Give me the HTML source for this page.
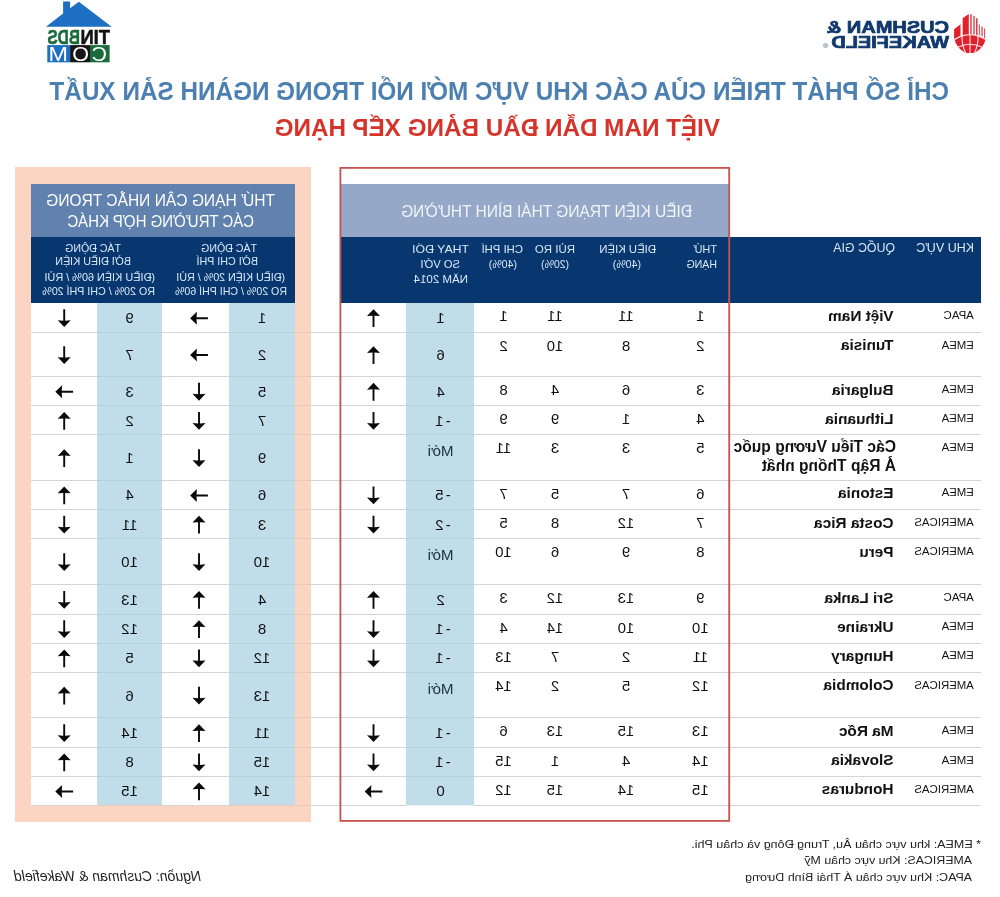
<!DOCTYPE html>
<html lang="vi"><head><meta charset="utf-8">
<title>Chỉ số phát triển của các khu vực mới nổi trong ngành sản xuất</title>
<style>
html,body{margin:0;padding:0;background:#fff;}
body{width:1000px;height:897px;overflow:hidden;font-family:"Liberation Sans", sans-serif;}
#flip{position:absolute;left:0;top:0;width:1000px;height:897px;transform:scaleX(-1);transform-origin:50% 50%;overflow:hidden;will-change:transform;}
.b{position:absolute;}
.t{position:absolute;white-space:nowrap;line-height:1;transform-origin:0 0;}
.c{position:absolute;white-space:nowrap;line-height:1;width:80px;text-align:center;}
.g{position:absolute;transform:scaleX(-1);}
</style></head><body><div id="flip">
<div class="b" style="left:689px;top:167px;width:296px;height:655px;background:#fbd4c2"></div>
<div class="b" style="left:705px;top:184px;width:264px;height:53px;background:#6182ae"></div>
<div class="b" style="left:705px;top:237px;width:264px;height:65.75px;background:#08376f"></div>
<div class="b" style="left:705px;top:302.75px;width:264px;height:502.5px;background:#fff"></div>
<div class="b" style="left:705px;top:302.75px;width:65.5px;height:502.5px;background:#c0dde9"></div>
<div class="b" style="left:837.5px;top:302.75px;width:65.5px;height:502.5px;background:#c0dde9"></div>
<div class="b" style="left:271.4px;top:184px;width:387.6px;height:53px;background:#96a8c8"></div>
<div class="b" style="left:19px;top:237px;width:640px;height:65.75px;background:#08376f"></div>
<div class="b" style="left:525.6px;top:302.75px;width:68.4px;height:502.5px;background:#c0dde9"></div>
<div class="b" style="left:903px;top:331.75px;width:66px;height:1px;background:#d1d4d8"></div>
<div class="b" style="left:770.5px;top:331.75px;width:67px;height:1px;background:#d1d4d8"></div>
<div class="b" style="left:594px;top:331.75px;width:95px;height:1px;background:#d1d4d8"></div>
<div class="b" style="left:19px;top:331.75px;width:506.6px;height:1px;background:#d1d4d8"></div>
<div class="b" style="left:837.5px;top:331.75px;width:65.5px;height:1px;background:rgba(110,130,150,0.13)"></div>
<div class="b" style="left:689px;top:331.75px;width:81.5px;height:1px;background:rgba(110,130,150,0.13)"></div>
<div class="b" style="left:525.6px;top:331.75px;width:68.4px;height:1px;background:rgba(110,130,150,0.13)"></div>
<div class="b" style="left:903px;top:376px;width:66px;height:1px;background:#d1d4d8"></div>
<div class="b" style="left:770.5px;top:376px;width:67px;height:1px;background:#d1d4d8"></div>
<div class="b" style="left:594px;top:376px;width:95px;height:1px;background:#d1d4d8"></div>
<div class="b" style="left:19px;top:376px;width:506.6px;height:1px;background:#d1d4d8"></div>
<div class="b" style="left:837.5px;top:376px;width:65.5px;height:1px;background:rgba(110,130,150,0.13)"></div>
<div class="b" style="left:689px;top:376px;width:81.5px;height:1px;background:rgba(110,130,150,0.13)"></div>
<div class="b" style="left:525.6px;top:376px;width:68.4px;height:1px;background:rgba(110,130,150,0.13)"></div>
<div class="b" style="left:903px;top:405.1px;width:66px;height:1px;background:#d1d4d8"></div>
<div class="b" style="left:770.5px;top:405.1px;width:67px;height:1px;background:#d1d4d8"></div>
<div class="b" style="left:594px;top:405.1px;width:95px;height:1px;background:#d1d4d8"></div>
<div class="b" style="left:19px;top:405.1px;width:506.6px;height:1px;background:#d1d4d8"></div>
<div class="b" style="left:837.5px;top:405.1px;width:65.5px;height:1px;background:rgba(110,130,150,0.13)"></div>
<div class="b" style="left:689px;top:405.1px;width:81.5px;height:1px;background:rgba(110,130,150,0.13)"></div>
<div class="b" style="left:525.6px;top:405.1px;width:68.4px;height:1px;background:rgba(110,130,150,0.13)"></div>
<div class="b" style="left:903px;top:434.25px;width:66px;height:1px;background:#d1d4d8"></div>
<div class="b" style="left:770.5px;top:434.25px;width:67px;height:1px;background:#d1d4d8"></div>
<div class="b" style="left:594px;top:434.25px;width:95px;height:1px;background:#d1d4d8"></div>
<div class="b" style="left:19px;top:434.25px;width:506.6px;height:1px;background:#d1d4d8"></div>
<div class="b" style="left:837.5px;top:434.25px;width:65.5px;height:1px;background:rgba(110,130,150,0.13)"></div>
<div class="b" style="left:689px;top:434.25px;width:81.5px;height:1px;background:rgba(110,130,150,0.13)"></div>
<div class="b" style="left:525.6px;top:434.25px;width:68.4px;height:1px;background:rgba(110,130,150,0.13)"></div>
<div class="b" style="left:903px;top:479.5px;width:66px;height:1px;background:#d1d4d8"></div>
<div class="b" style="left:770.5px;top:479.5px;width:67px;height:1px;background:#d1d4d8"></div>
<div class="b" style="left:594px;top:479.5px;width:95px;height:1px;background:#d1d4d8"></div>
<div class="b" style="left:19px;top:479.5px;width:506.6px;height:1px;background:#d1d4d8"></div>
<div class="b" style="left:837.5px;top:479.5px;width:65.5px;height:1px;background:rgba(110,130,150,0.13)"></div>
<div class="b" style="left:689px;top:479.5px;width:81.5px;height:1px;background:rgba(110,130,150,0.13)"></div>
<div class="b" style="left:525.6px;top:479.5px;width:68.4px;height:1px;background:rgba(110,130,150,0.13)"></div>
<div class="b" style="left:903px;top:509px;width:66px;height:1px;background:#d1d4d8"></div>
<div class="b" style="left:770.5px;top:509px;width:67px;height:1px;background:#d1d4d8"></div>
<div class="b" style="left:594px;top:509px;width:95px;height:1px;background:#d1d4d8"></div>
<div class="b" style="left:19px;top:509px;width:506.6px;height:1px;background:#d1d4d8"></div>
<div class="b" style="left:837.5px;top:509px;width:65.5px;height:1px;background:rgba(110,130,150,0.13)"></div>
<div class="b" style="left:689px;top:509px;width:81.5px;height:1px;background:rgba(110,130,150,0.13)"></div>
<div class="b" style="left:525.6px;top:509px;width:68.4px;height:1px;background:rgba(110,130,150,0.13)"></div>
<div class="b" style="left:903px;top:538px;width:66px;height:1px;background:#d1d4d8"></div>
<div class="b" style="left:770.5px;top:538px;width:67px;height:1px;background:#d1d4d8"></div>
<div class="b" style="left:594px;top:538px;width:95px;height:1px;background:#d1d4d8"></div>
<div class="b" style="left:19px;top:538px;width:506.6px;height:1px;background:#d1d4d8"></div>
<div class="b" style="left:837.5px;top:538px;width:65.5px;height:1px;background:rgba(110,130,150,0.13)"></div>
<div class="b" style="left:689px;top:538px;width:81.5px;height:1px;background:rgba(110,130,150,0.13)"></div>
<div class="b" style="left:525.6px;top:538px;width:68.4px;height:1px;background:rgba(110,130,150,0.13)"></div>
<div class="b" style="left:903px;top:583.9px;width:66px;height:1px;background:#d1d4d8"></div>
<div class="b" style="left:770.5px;top:583.9px;width:67px;height:1px;background:#d1d4d8"></div>
<div class="b" style="left:594px;top:583.9px;width:95px;height:1px;background:#d1d4d8"></div>
<div class="b" style="left:19px;top:583.9px;width:506.6px;height:1px;background:#d1d4d8"></div>
<div class="b" style="left:837.5px;top:583.9px;width:65.5px;height:1px;background:rgba(110,130,150,0.13)"></div>
<div class="b" style="left:689px;top:583.9px;width:81.5px;height:1px;background:rgba(110,130,150,0.13)"></div>
<div class="b" style="left:525.6px;top:583.9px;width:68.4px;height:1px;background:rgba(110,130,150,0.13)"></div>
<div class="b" style="left:903px;top:613.5px;width:66px;height:1px;background:#d1d4d8"></div>
<div class="b" style="left:770.5px;top:613.5px;width:67px;height:1px;background:#d1d4d8"></div>
<div class="b" style="left:594px;top:613.5px;width:95px;height:1px;background:#d1d4d8"></div>
<div class="b" style="left:19px;top:613.5px;width:506.6px;height:1px;background:#d1d4d8"></div>
<div class="b" style="left:837.5px;top:613.5px;width:65.5px;height:1px;background:rgba(110,130,150,0.13)"></div>
<div class="b" style="left:689px;top:613.5px;width:81.5px;height:1px;background:rgba(110,130,150,0.13)"></div>
<div class="b" style="left:525.6px;top:613.5px;width:68.4px;height:1px;background:rgba(110,130,150,0.13)"></div>
<div class="b" style="left:903px;top:642.5px;width:66px;height:1px;background:#d1d4d8"></div>
<div class="b" style="left:770.5px;top:642.5px;width:67px;height:1px;background:#d1d4d8"></div>
<div class="b" style="left:594px;top:642.5px;width:95px;height:1px;background:#d1d4d8"></div>
<div class="b" style="left:19px;top:642.5px;width:506.6px;height:1px;background:#d1d4d8"></div>
<div class="b" style="left:837.5px;top:642.5px;width:65.5px;height:1px;background:rgba(110,130,150,0.13)"></div>
<div class="b" style="left:689px;top:642.5px;width:81.5px;height:1px;background:rgba(110,130,150,0.13)"></div>
<div class="b" style="left:525.6px;top:642.5px;width:68.4px;height:1px;background:rgba(110,130,150,0.13)"></div>
<div class="b" style="left:903px;top:671.75px;width:66px;height:1px;background:#d1d4d8"></div>
<div class="b" style="left:770.5px;top:671.75px;width:67px;height:1px;background:#d1d4d8"></div>
<div class="b" style="left:594px;top:671.75px;width:95px;height:1px;background:#d1d4d8"></div>
<div class="b" style="left:19px;top:671.75px;width:506.6px;height:1px;background:#d1d4d8"></div>
<div class="b" style="left:837.5px;top:671.75px;width:65.5px;height:1px;background:rgba(110,130,150,0.13)"></div>
<div class="b" style="left:689px;top:671.75px;width:81.5px;height:1px;background:rgba(110,130,150,0.13)"></div>
<div class="b" style="left:525.6px;top:671.75px;width:68.4px;height:1px;background:rgba(110,130,150,0.13)"></div>
<div class="b" style="left:903px;top:717.25px;width:66px;height:1px;background:#d1d4d8"></div>
<div class="b" style="left:770.5px;top:717.25px;width:67px;height:1px;background:#d1d4d8"></div>
<div class="b" style="left:594px;top:717.25px;width:95px;height:1px;background:#d1d4d8"></div>
<div class="b" style="left:19px;top:717.25px;width:506.6px;height:1px;background:#d1d4d8"></div>
<div class="b" style="left:837.5px;top:717.25px;width:65.5px;height:1px;background:rgba(110,130,150,0.13)"></div>
<div class="b" style="left:689px;top:717.25px;width:81.5px;height:1px;background:rgba(110,130,150,0.13)"></div>
<div class="b" style="left:525.6px;top:717.25px;width:68.4px;height:1px;background:rgba(110,130,150,0.13)"></div>
<div class="b" style="left:903px;top:746.75px;width:66px;height:1px;background:#d1d4d8"></div>
<div class="b" style="left:770.5px;top:746.75px;width:67px;height:1px;background:#d1d4d8"></div>
<div class="b" style="left:594px;top:746.75px;width:95px;height:1px;background:#d1d4d8"></div>
<div class="b" style="left:19px;top:746.75px;width:506.6px;height:1px;background:#d1d4d8"></div>
<div class="b" style="left:837.5px;top:746.75px;width:65.5px;height:1px;background:rgba(110,130,150,0.13)"></div>
<div class="b" style="left:689px;top:746.75px;width:81.5px;height:1px;background:rgba(110,130,150,0.13)"></div>
<div class="b" style="left:525.6px;top:746.75px;width:68.4px;height:1px;background:rgba(110,130,150,0.13)"></div>
<div class="b" style="left:903px;top:775.75px;width:66px;height:1px;background:#d1d4d8"></div>
<div class="b" style="left:770.5px;top:775.75px;width:67px;height:1px;background:#d1d4d8"></div>
<div class="b" style="left:594px;top:775.75px;width:95px;height:1px;background:#d1d4d8"></div>
<div class="b" style="left:19px;top:775.75px;width:506.6px;height:1px;background:#d1d4d8"></div>
<div class="b" style="left:837.5px;top:775.75px;width:65.5px;height:1px;background:rgba(110,130,150,0.13)"></div>
<div class="b" style="left:689px;top:775.75px;width:81.5px;height:1px;background:rgba(110,130,150,0.13)"></div>
<div class="b" style="left:525.6px;top:775.75px;width:68.4px;height:1px;background:rgba(110,130,150,0.13)"></div>
<div class="b" style="left:903px;top:804.75px;width:66px;height:1px;background:#d1d4d8"></div>
<div class="b" style="left:770.5px;top:804.75px;width:67px;height:1px;background:#d1d4d8"></div>
<div class="b" style="left:594px;top:804.75px;width:95px;height:1px;background:#d1d4d8"></div>
<div class="b" style="left:19px;top:804.75px;width:506.6px;height:1px;background:#d1d4d8"></div>
<div class="b" style="left:837.5px;top:804.75px;width:65.5px;height:1px;background:rgba(110,130,150,0.13)"></div>
<div class="b" style="left:689px;top:804.75px;width:81.5px;height:1px;background:rgba(110,130,150,0.13)"></div>
<div class="b" style="left:525.6px;top:804.75px;width:68.4px;height:1px;background:rgba(110,130,150,0.13)"></div>
<svg class="g" style="left:0;top:0" width="1000" height="897" viewBox="0 0 1000 897" fill="#0a0a0a"><g transform="translate(373.5 318.2) rotate(0)"><path d="M0 -8.9 L6.5 -2.1 L0.95 -2.5 L0.95 8.9 L-0.95 8.9 L-0.95 -2.5 L-6.5 -2.1 Z"/></g><g transform="translate(199 318.2) rotate(-90)"><path d="M0 -8.9 L6.5 -2.1 L0.95 -2.5 L0.95 8.9 L-0.95 8.9 L-0.95 -2.5 L-6.5 -2.1 Z"/></g><g transform="translate(64.2 318.2) rotate(180)"><path d="M0 -8.9 L6.5 -2.1 L0.95 -2.5 L0.95 8.9 L-0.95 8.9 L-0.95 -2.5 L-6.5 -2.1 Z"/></g><g transform="translate(373.5 355.07) rotate(0)"><path d="M0 -8.9 L6.5 -2.1 L0.95 -2.5 L0.95 8.9 L-0.95 8.9 L-0.95 -2.5 L-6.5 -2.1 Z"/></g><g transform="translate(199 355.07) rotate(-90)"><path d="M0 -8.9 L6.5 -2.1 L0.95 -2.5 L0.95 8.9 L-0.95 8.9 L-0.95 -2.5 L-6.5 -2.1 Z"/></g><g transform="translate(64.2 355.07) rotate(180)"><path d="M0 -8.9 L6.5 -2.1 L0.95 -2.5 L0.95 8.9 L-0.95 8.9 L-0.95 -2.5 L-6.5 -2.1 Z"/></g><g transform="translate(373.5 391.75) rotate(0)"><path d="M0 -8.9 L6.5 -2.1 L0.95 -2.5 L0.95 8.9 L-0.95 8.9 L-0.95 -2.5 L-6.5 -2.1 Z"/></g><g transform="translate(199 391.75) rotate(180)"><path d="M0 -8.9 L6.5 -2.1 L0.95 -2.5 L0.95 8.9 L-0.95 8.9 L-0.95 -2.5 L-6.5 -2.1 Z"/></g><g transform="translate(64.2 391.75) rotate(-90)"><path d="M0 -8.9 L6.5 -2.1 L0.95 -2.5 L0.95 8.9 L-0.95 8.9 L-0.95 -2.5 L-6.5 -2.1 Z"/></g><g transform="translate(373.5 420.88) rotate(180)"><path d="M0 -8.9 L6.5 -2.1 L0.95 -2.5 L0.95 8.9 L-0.95 8.9 L-0.95 -2.5 L-6.5 -2.1 Z"/></g><g transform="translate(199 420.88) rotate(180)"><path d="M0 -8.9 L6.5 -2.1 L0.95 -2.5 L0.95 8.9 L-0.95 8.9 L-0.95 -2.5 L-6.5 -2.1 Z"/></g><g transform="translate(64.2 420.88) rotate(0)"><path d="M0 -8.9 L6.5 -2.1 L0.95 -2.5 L0.95 8.9 L-0.95 8.9 L-0.95 -2.5 L-6.5 -2.1 Z"/></g><g transform="translate(199 458.07) rotate(180)"><path d="M0 -8.9 L6.5 -2.1 L0.95 -2.5 L0.95 8.9 L-0.95 8.9 L-0.95 -2.5 L-6.5 -2.1 Z"/></g><g transform="translate(64.2 458.07) rotate(0)"><path d="M0 -8.9 L6.5 -2.1 L0.95 -2.5 L0.95 8.9 L-0.95 8.9 L-0.95 -2.5 L-6.5 -2.1 Z"/></g><g transform="translate(373.5 495.45) rotate(180)"><path d="M0 -8.9 L6.5 -2.1 L0.95 -2.5 L0.95 8.9 L-0.95 8.9 L-0.95 -2.5 L-6.5 -2.1 Z"/></g><g transform="translate(199 495.45) rotate(-90)"><path d="M0 -8.9 L6.5 -2.1 L0.95 -2.5 L0.95 8.9 L-0.95 8.9 L-0.95 -2.5 L-6.5 -2.1 Z"/></g><g transform="translate(64.2 495.45) rotate(0)"><path d="M0 -8.9 L6.5 -2.1 L0.95 -2.5 L0.95 8.9 L-0.95 8.9 L-0.95 -2.5 L-6.5 -2.1 Z"/></g><g transform="translate(373.5 524.7) rotate(180)"><path d="M0 -8.9 L6.5 -2.1 L0.95 -2.5 L0.95 8.9 L-0.95 8.9 L-0.95 -2.5 L-6.5 -2.1 Z"/></g><g transform="translate(199 524.7) rotate(0)"><path d="M0 -8.9 L6.5 -2.1 L0.95 -2.5 L0.95 8.9 L-0.95 8.9 L-0.95 -2.5 L-6.5 -2.1 Z"/></g><g transform="translate(64.2 524.7) rotate(180)"><path d="M0 -8.9 L6.5 -2.1 L0.95 -2.5 L0.95 8.9 L-0.95 8.9 L-0.95 -2.5 L-6.5 -2.1 Z"/></g><g transform="translate(199 562.15) rotate(180)"><path d="M0 -8.9 L6.5 -2.1 L0.95 -2.5 L0.95 8.9 L-0.95 8.9 L-0.95 -2.5 L-6.5 -2.1 Z"/></g><g transform="translate(64.2 562.15) rotate(180)"><path d="M0 -8.9 L6.5 -2.1 L0.95 -2.5 L0.95 8.9 L-0.95 8.9 L-0.95 -2.5 L-6.5 -2.1 Z"/></g><g transform="translate(373.5 599.9) rotate(0)"><path d="M0 -8.9 L6.5 -2.1 L0.95 -2.5 L0.95 8.9 L-0.95 8.9 L-0.95 -2.5 L-6.5 -2.1 Z"/></g><g transform="translate(199 599.9) rotate(0)"><path d="M0 -8.9 L6.5 -2.1 L0.95 -2.5 L0.95 8.9 L-0.95 8.9 L-0.95 -2.5 L-6.5 -2.1 Z"/></g><g transform="translate(64.2 599.9) rotate(180)"><path d="M0 -8.9 L6.5 -2.1 L0.95 -2.5 L0.95 8.9 L-0.95 8.9 L-0.95 -2.5 L-6.5 -2.1 Z"/></g><g transform="translate(373.5 629.2) rotate(180)"><path d="M0 -8.9 L6.5 -2.1 L0.95 -2.5 L0.95 8.9 L-0.95 8.9 L-0.95 -2.5 L-6.5 -2.1 Z"/></g><g transform="translate(199 629.2) rotate(0)"><path d="M0 -8.9 L6.5 -2.1 L0.95 -2.5 L0.95 8.9 L-0.95 8.9 L-0.95 -2.5 L-6.5 -2.1 Z"/></g><g transform="translate(64.2 629.2) rotate(180)"><path d="M0 -8.9 L6.5 -2.1 L0.95 -2.5 L0.95 8.9 L-0.95 8.9 L-0.95 -2.5 L-6.5 -2.1 Z"/></g><g transform="translate(373.5 658.33) rotate(180)"><path d="M0 -8.9 L6.5 -2.1 L0.95 -2.5 L0.95 8.9 L-0.95 8.9 L-0.95 -2.5 L-6.5 -2.1 Z"/></g><g transform="translate(199 658.33) rotate(180)"><path d="M0 -8.9 L6.5 -2.1 L0.95 -2.5 L0.95 8.9 L-0.95 8.9 L-0.95 -2.5 L-6.5 -2.1 Z"/></g><g transform="translate(64.2 658.33) rotate(0)"><path d="M0 -8.9 L6.5 -2.1 L0.95 -2.5 L0.95 8.9 L-0.95 8.9 L-0.95 -2.5 L-6.5 -2.1 Z"/></g><g transform="translate(199 695.7) rotate(180)"><path d="M0 -8.9 L6.5 -2.1 L0.95 -2.5 L0.95 8.9 L-0.95 8.9 L-0.95 -2.5 L-6.5 -2.1 Z"/></g><g transform="translate(64.2 695.7) rotate(0)"><path d="M0 -8.9 L6.5 -2.1 L0.95 -2.5 L0.95 8.9 L-0.95 8.9 L-0.95 -2.5 L-6.5 -2.1 Z"/></g><g transform="translate(373.5 733.2) rotate(180)"><path d="M0 -8.9 L6.5 -2.1 L0.95 -2.5 L0.95 8.9 L-0.95 8.9 L-0.95 -2.5 L-6.5 -2.1 Z"/></g><g transform="translate(199 733.2) rotate(0)"><path d="M0 -8.9 L6.5 -2.1 L0.95 -2.5 L0.95 8.9 L-0.95 8.9 L-0.95 -2.5 L-6.5 -2.1 Z"/></g><g transform="translate(64.2 733.2) rotate(180)"><path d="M0 -8.9 L6.5 -2.1 L0.95 -2.5 L0.95 8.9 L-0.95 8.9 L-0.95 -2.5 L-6.5 -2.1 Z"/></g><g transform="translate(373.5 762.45) rotate(180)"><path d="M0 -8.9 L6.5 -2.1 L0.95 -2.5 L0.95 8.9 L-0.95 8.9 L-0.95 -2.5 L-6.5 -2.1 Z"/></g><g transform="translate(199 762.45) rotate(180)"><path d="M0 -8.9 L6.5 -2.1 L0.95 -2.5 L0.95 8.9 L-0.95 8.9 L-0.95 -2.5 L-6.5 -2.1 Z"/></g><g transform="translate(64.2 762.45) rotate(0)"><path d="M0 -8.9 L6.5 -2.1 L0.95 -2.5 L0.95 8.9 L-0.95 8.9 L-0.95 -2.5 L-6.5 -2.1 Z"/></g><g transform="translate(373.5 791.45) rotate(-90)"><path d="M0 -8.9 L6.5 -2.1 L0.95 -2.5 L0.95 8.9 L-0.95 8.9 L-0.95 -2.5 L-6.5 -2.1 Z"/></g><g transform="translate(199 791.45) rotate(0)"><path d="M0 -8.9 L6.5 -2.1 L0.95 -2.5 L0.95 8.9 L-0.95 8.9 L-0.95 -2.5 L-6.5 -2.1 Z"/></g><g transform="translate(64.2 791.45) rotate(-90)"><path d="M0 -8.9 L6.5 -2.1 L0.95 -2.5 L0.95 8.9 L-0.95 8.9 L-0.95 -2.5 L-6.5 -2.1 Z"/></g></svg>
<svg class="g" style="left:0;top:0" width="1000" height="897" viewBox="0 0 1000 897"><rect x="340.4" y="167.9" width="388.8" height="653.0" fill="none" stroke="#c8524e" stroke-width="1.8"/></svg>
<svg class="g" style="left:0;top:0" width="1000" height="80" viewBox="0 0 1000 80"><path d="M45.9 26.8 L63.1 13.6 L63.1 1.4 L70.1 1.4 L70.1 8.3 L78.8 1.7 L111.7 26.8 Z" fill="#1d6fc4"/><rect x="47.3" y="45.1" width="22.8" height="17.2" fill="#1d6fc4"/><rect x="70.1" y="45.1" width="19.9" height="17.2" fill="#161616"/><rect x="90" y="45.1" width="19.6" height="17.2" fill="#1a6a3c"/></svg>
<svg class="g" style="left:0;top:0" width="1000" height="80" viewBox="0 0 1000 80"><path d="M954.09 29.20 L960.53 24.30 L960.53 35.64 L954.09 38.70 Z" fill="#e0202c"/><path d="M962.67 18.17 L968.80 13.88 L968.80 34.41 L962.67 35.02 Z" fill="#e0202c"/><path d="M970.02 14.19 L971.86 14.19 L971.86 34.41 L970.02 34.41 Z" fill="#e8606a"/><path d="M973.09 16.03 L975.05 16.03 L975.05 34.41 L973.09 34.41 Z" fill="#e8707a"/><path d="M976.15 18.17 L977.50 18.17 L977.50 35.02 L976.15 35.02 Z" fill="#c0283a"/><path d="M978.79 24.61 L979.95 24.61 L979.95 35.33 L978.79 35.33 Z" fill="#e0505c"/><path d="M981.36 26.75 L982.71 26.75 L982.71 35.94 L981.36 35.94 Z" fill="#e0404c"/><path d="M984.12 28.59 L985.16 28.59 L985.16 38.39 L984.12 38.39 Z" fill="#d04050"/><path d="M954.58 39.31 Q970.02 29.51 985.47 39.31 Q984.12 47.89 974.31 53.10 L965.74 53.10 Q955.93 47.89 954.58 39.31 Z" fill="#e0202c"/><g fill="none" stroke="#ffe3e3" stroke-width="1.1"><path d="M954.58 39.62 Q970.02 29.82 985.47 39.62"/><path d="M957.77 47.28 Q970.02 41.15 982.28 47.28"/><path d="M962.06 34.41 Q961.45 44.83 965.74 53.10"/><path d="M970.02 33.80 L970.02 53.41"/><path d="M977.99 34.41 Q978.60 44.83 974.31 53.10"/></g></svg>
<div class="t" style="left:51px;top:78.75px;font-size:25.1px;color:#4c80b0;font-weight:700;transform:scaleX(0.9679)">CHỈ SỐ PHÁT TRIỂN CỦA CÁC KHU VỰC MỚI NỔI TRONG NGÀNH SẢN XUẤT</div>
<div class="t" style="left:279.6px;top:115.6px;font-size:24.4px;color:#d5342b;font-weight:700;transform:scaleX(0.9939)">VIỆT NAM DẪN ĐẦU BẢNG XẾP HẠNG</div>
<div class="t" style="left:725.1px;top:192.88px;font-size:16.8px;color:#fff;transform:scaleX(0.9260)">THỨ HẠNG CÂN NHẮC TRONG</div>
<div class="t" style="left:746.4px;top:214.48px;font-size:16.8px;color:#fff;transform:scaleX(0.8914)">CÁC TRƯỜNG HỢP KHÁC</div>
<div class="t" style="left:308.1px;top:202.61px;font-size:17px;color:#f2f5fa;transform:scaleX(0.9116)">ĐIỀU KIỆN TRẠNG THÁI BÌNH THƯỜNG</div>
<div class="t" style="left:743.1px;top:243.77px;font-size:10.2px;color:#d9e8f7;transform:scaleX(1.0415)">TÁC ĐỘNG</div>
<div class="t" style="left:741.8px;top:257.17px;font-size:10.2px;color:#d9e8f7;transform:scaleX(1.0504)">BỞI CHI PHÍ</div>
<div class="t" style="left:714.6px;top:273.27px;font-size:10.2px;color:#d9e8f7;transform:scaleX(1.0483)">(ĐIỀU KIỆN 20% / RỦI</div>
<div class="t" style="left:713.2px;top:287.17px;font-size:10.2px;color:#d9e8f7;transform:scaleX(1.0412)">RO 20% / CHI PHÍ 60%</div>
<div class="t" style="left:879px;top:243.77px;font-size:10.2px;color:#d9e8f7;transform:scaleX(1.0415)">TÁC ĐỘNG</div>
<div class="t" style="left:869.1px;top:257.17px;font-size:10.2px;color:#d9e8f7;transform:scaleX(1.0494)">BỞI ĐIỀU KIỆN</div>
<div class="t" style="left:844.8px;top:273.27px;font-size:10.2px;color:#d9e8f7;transform:scaleX(1.0676)">(ĐIỀU KIỆN 60% / RỦI</div>
<div class="t" style="left:844.8px;top:287.17px;font-size:10.2px;color:#d9e8f7;transform:scaleX(1.0486)">RO 20% / CHI PHÍ 20%</div>
<div class="t" style="left:26.2px;top:242.27px;font-size:12.2px;color:#d9e8f7;transform:scaleX(1.0238)">KHU VỰC</div>
<div class="t" style="left:105.4px;top:242.27px;font-size:12.2px;color:#d9e8f7;transform:scaleX(1.0108)">QUỐC GIA</div>
<div class="t" style="left:283.1px;top:243.76px;font-size:10.8px;color:#d9e8f7;transform:scaleX(1.0079)">THỨ</div>
<div class="t" style="left:283.1px;top:259.06px;font-size:10.8px;color:#d9e8f7;transform:scaleX(0.9810)">HẠNG</div>
<div class="t" style="left:344.3px;top:243.76px;font-size:10.8px;color:#d9e8f7;transform:scaleX(1.0519)">ĐIỀU KIỆN</div>
<div class="t" style="left:359.3px;top:259.06px;font-size:10.8px;color:#d9e8f7;transform:scaleX(0.9792)">(40%)</div>
<div class="t" style="left:424.9px;top:243.76px;font-size:10.8px;color:#d9e8f7;transform:scaleX(1.0612)">RỦI RO</div>
<div class="t" style="left:431px;top:259.06px;font-size:10.8px;color:#d9e8f7;transform:scaleX(0.9687)">(20%)</div>
<div class="t" style="left:476.9px;top:243.76px;font-size:10.8px;color:#d9e8f7;transform:scaleX(1.0482)">CHI PHÍ</div>
<div class="t" style="left:482.7px;top:259.06px;font-size:10.8px;color:#d9e8f7;transform:scaleX(0.9792)">(40%)</div>
<div class="t" style="left:531px;top:243.76px;font-size:10.8px;color:#d9e8f7;transform:scaleX(1.1377)">THAY ĐỔI</div>
<div class="t" style="left:539.5px;top:259.06px;font-size:10.8px;color:#d9e8f7;transform:scaleX(1.0379)">SO VỚI</div>
<div class="t" style="left:532px;top:273.66px;font-size:10.8px;color:#d9e8f7;transform:scaleX(1.0664)">NĂM 2014</div>
<div class="t" style="left:26.2px;top:310px;font-size:11.4px;color:#111;">APAC</div>
<div class="t" style="left:106.4px;top:307.91px;font-size:15.4px;color:#111;font-weight:700;">Việt Nam</div>
<div class="c" style="left:259.7px;top:308.25px;font-size:15px;color:#111;">1</div>
<div class="c" style="left:334px;top:308.25px;font-size:15px;color:#111;">11</div>
<div class="c" style="left:405px;top:308.25px;font-size:15px;color:#111;">11</div>
<div class="c" style="left:456.5px;top:308.25px;font-size:15px;color:#111;">1</div>
<div class="c" style="left:519.5px;top:310.2px;font-size:15px;color:#111;">1</div>
<div class="c" style="left:698px;top:310.2px;font-size:15px;color:#111;">1</div>
<div class="c" style="left:830.4px;top:310.2px;font-size:15px;color:#111;">9</div>
<div class="t" style="left:26.2px;top:339.5px;font-size:11.4px;color:#111;">EMEA</div>
<div class="t" style="left:106.4px;top:337.41px;font-size:15.4px;color:#111;font-weight:700;">Tunisia</div>
<div class="c" style="left:259.7px;top:337.75px;font-size:15px;color:#111;">2</div>
<div class="c" style="left:334px;top:337.75px;font-size:15px;color:#111;">8</div>
<div class="c" style="left:405px;top:337.75px;font-size:15px;color:#111;">10</div>
<div class="c" style="left:456.5px;top:337.75px;font-size:15px;color:#111;">2</div>
<div class="c" style="left:519.5px;top:347.08px;font-size:15px;color:#111;">6</div>
<div class="c" style="left:698px;top:347.08px;font-size:15px;color:#111;">2</div>
<div class="c" style="left:830.4px;top:347.08px;font-size:15px;color:#111;">7</div>
<div class="t" style="left:26.2px;top:383.75px;font-size:11.4px;color:#111;">EMEA</div>
<div class="t" style="left:106.4px;top:381.66px;font-size:15.4px;color:#111;font-weight:700;">Bulgaria</div>
<div class="c" style="left:259.7px;top:382px;font-size:15px;color:#111;">3</div>
<div class="c" style="left:334px;top:382px;font-size:15px;color:#111;">6</div>
<div class="c" style="left:405px;top:382px;font-size:15px;color:#111;">4</div>
<div class="c" style="left:456.5px;top:382px;font-size:15px;color:#111;">8</div>
<div class="c" style="left:519.5px;top:383.75px;font-size:15px;color:#111;">4</div>
<div class="c" style="left:698px;top:383.75px;font-size:15px;color:#111;">5</div>
<div class="c" style="left:830.4px;top:383.75px;font-size:15px;color:#111;">3</div>
<div class="t" style="left:26.2px;top:412.85px;font-size:11.4px;color:#111;">EMEA</div>
<div class="t" style="left:106.4px;top:410.76px;font-size:15.4px;color:#111;font-weight:700;">Lithuania</div>
<div class="c" style="left:259.7px;top:411.1px;font-size:15px;color:#111;">4</div>
<div class="c" style="left:334px;top:411.1px;font-size:15px;color:#111;">1</div>
<div class="c" style="left:405px;top:411.1px;font-size:15px;color:#111;">9</div>
<div class="c" style="left:456.5px;top:411.1px;font-size:15px;color:#111;">9</div>
<div class="c" style="left:518.3px;top:412.88px;font-size:15px;color:#111;letter-spacing:2.4px;">-1</div>
<div class="c" style="left:698px;top:412.88px;font-size:15px;color:#111;">7</div>
<div class="c" style="left:830.4px;top:412.88px;font-size:15px;color:#111;">2</div>
<div class="t" style="left:26.2px;top:442px;font-size:11.4px;color:#111;">EMEA</div>
<div class="t" style="left:104px;top:439.14px;font-size:15.6px;color:#111;font-weight:700;">Các Tiểu Vương quốc</div>
<div class="t" style="left:104px;top:458.34px;font-size:15.6px;color:#111;font-weight:700;">Ả Rập Thống nhất</div>
<div class="c" style="left:259.7px;top:440.25px;font-size:15px;color:#111;">5</div>
<div class="c" style="left:334px;top:440.25px;font-size:15px;color:#111;">3</div>
<div class="c" style="left:405px;top:440.25px;font-size:15px;color:#111;">3</div>
<div class="c" style="left:456.5px;top:440.25px;font-size:15px;color:#111;">11</div>
<div class="c" style="left:519.4px;top:443.28px;font-size:15.2px;color:#1d3340;">Mới</div>
<div class="c" style="left:698px;top:450.08px;font-size:15px;color:#111;">9</div>
<div class="c" style="left:830.4px;top:450.08px;font-size:15px;color:#111;">1</div>
<div class="t" style="left:26.2px;top:487.25px;font-size:11.4px;color:#111;">EMEA</div>
<div class="t" style="left:106.4px;top:485.16px;font-size:15.4px;color:#111;font-weight:700;">Estonia</div>
<div class="c" style="left:259.7px;top:485.5px;font-size:15px;color:#111;">6</div>
<div class="c" style="left:334px;top:485.5px;font-size:15px;color:#111;">7</div>
<div class="c" style="left:405px;top:485.5px;font-size:15px;color:#111;">5</div>
<div class="c" style="left:456.5px;top:485.5px;font-size:15px;color:#111;">7</div>
<div class="c" style="left:518.3px;top:487.45px;font-size:15px;color:#111;letter-spacing:2.4px;">-5</div>
<div class="c" style="left:698px;top:487.45px;font-size:15px;color:#111;">6</div>
<div class="c" style="left:830.4px;top:487.45px;font-size:15px;color:#111;">4</div>
<div class="t" style="left:26.2px;top:516.75px;font-size:11.4px;color:#111;">AMERICAS</div>
<div class="t" style="left:106.4px;top:514.66px;font-size:15.4px;color:#111;font-weight:700;">Costa Rica</div>
<div class="c" style="left:259.7px;top:515px;font-size:15px;color:#111;">7</div>
<div class="c" style="left:334px;top:515px;font-size:15px;color:#111;">12</div>
<div class="c" style="left:405px;top:515px;font-size:15px;color:#111;">8</div>
<div class="c" style="left:456.5px;top:515px;font-size:15px;color:#111;">5</div>
<div class="c" style="left:518.3px;top:516.7px;font-size:15px;color:#111;letter-spacing:2.4px;">-2</div>
<div class="c" style="left:698px;top:516.7px;font-size:15px;color:#111;">3</div>
<div class="c" style="left:830.4px;top:516.7px;font-size:15px;color:#111;">11</div>
<div class="t" style="left:26.2px;top:545.75px;font-size:11.4px;color:#111;">AMERICAS</div>
<div class="t" style="left:106.4px;top:543.66px;font-size:15.4px;color:#111;font-weight:700;">Peru</div>
<div class="c" style="left:259.7px;top:544px;font-size:15px;color:#111;">8</div>
<div class="c" style="left:334px;top:544px;font-size:15px;color:#111;">9</div>
<div class="c" style="left:405px;top:544px;font-size:15px;color:#111;">6</div>
<div class="c" style="left:456.5px;top:544px;font-size:15px;color:#111;">10</div>
<div class="c" style="left:519.4px;top:547.03px;font-size:15.2px;color:#1d3340;">Mới</div>
<div class="c" style="left:698px;top:554.15px;font-size:15px;color:#111;">10</div>
<div class="c" style="left:830.4px;top:554.15px;font-size:15px;color:#111;">10</div>
<div class="t" style="left:26.2px;top:591.65px;font-size:11.4px;color:#111;">APAC</div>
<div class="t" style="left:106.4px;top:589.56px;font-size:15.4px;color:#111;font-weight:700;">Sri Lanka</div>
<div class="c" style="left:259.7px;top:589.9px;font-size:15px;color:#111;">9</div>
<div class="c" style="left:334px;top:589.9px;font-size:15px;color:#111;">13</div>
<div class="c" style="left:405px;top:589.9px;font-size:15px;color:#111;">12</div>
<div class="c" style="left:456.5px;top:589.9px;font-size:15px;color:#111;">3</div>
<div class="c" style="left:519.5px;top:591.9px;font-size:15px;color:#111;">2</div>
<div class="c" style="left:698px;top:591.9px;font-size:15px;color:#111;">4</div>
<div class="c" style="left:830.4px;top:591.9px;font-size:15px;color:#111;">13</div>
<div class="t" style="left:26.2px;top:621.25px;font-size:11.4px;color:#111;">EMEA</div>
<div class="t" style="left:106.4px;top:619.16px;font-size:15.4px;color:#111;font-weight:700;">Ukraine</div>
<div class="c" style="left:259.7px;top:619.5px;font-size:15px;color:#111;">10</div>
<div class="c" style="left:334px;top:619.5px;font-size:15px;color:#111;">10</div>
<div class="c" style="left:405px;top:619.5px;font-size:15px;color:#111;">14</div>
<div class="c" style="left:456.5px;top:619.5px;font-size:15px;color:#111;">4</div>
<div class="c" style="left:518.3px;top:621.2px;font-size:15px;color:#111;letter-spacing:2.4px;">-1</div>
<div class="c" style="left:698px;top:621.2px;font-size:15px;color:#111;">8</div>
<div class="c" style="left:830.4px;top:621.2px;font-size:15px;color:#111;">12</div>
<div class="t" style="left:26.2px;top:650.25px;font-size:11.4px;color:#111;">EMEA</div>
<div class="t" style="left:106.4px;top:648.16px;font-size:15.4px;color:#111;font-weight:700;">Hungary</div>
<div class="c" style="left:259.7px;top:648.5px;font-size:15px;color:#111;">11</div>
<div class="c" style="left:334px;top:648.5px;font-size:15px;color:#111;">2</div>
<div class="c" style="left:405px;top:648.5px;font-size:15px;color:#111;">7</div>
<div class="c" style="left:456.5px;top:648.5px;font-size:15px;color:#111;">13</div>
<div class="c" style="left:518.3px;top:650.33px;font-size:15px;color:#111;letter-spacing:2.4px;">-1</div>
<div class="c" style="left:698px;top:650.33px;font-size:15px;color:#111;">12</div>
<div class="c" style="left:830.4px;top:650.33px;font-size:15px;color:#111;">5</div>
<div class="t" style="left:26.2px;top:679.5px;font-size:11.4px;color:#111;">AMERICAS</div>
<div class="t" style="left:106.4px;top:677.41px;font-size:15.4px;color:#111;font-weight:700;">Colombia</div>
<div class="c" style="left:259.7px;top:677.75px;font-size:15px;color:#111;">12</div>
<div class="c" style="left:334px;top:677.75px;font-size:15px;color:#111;">5</div>
<div class="c" style="left:405px;top:677.75px;font-size:15px;color:#111;">2</div>
<div class="c" style="left:456.5px;top:677.75px;font-size:15px;color:#111;">14</div>
<div class="c" style="left:519.4px;top:680.78px;font-size:15.2px;color:#1d3340;">Mới</div>
<div class="c" style="left:698px;top:687.7px;font-size:15px;color:#111;">13</div>
<div class="c" style="left:830.4px;top:687.7px;font-size:15px;color:#111;">6</div>
<div class="t" style="left:26.2px;top:725px;font-size:11.4px;color:#111;">EMEA</div>
<div class="t" style="left:106.4px;top:722.91px;font-size:15.4px;color:#111;font-weight:700;">Ma Rốc</div>
<div class="c" style="left:259.7px;top:723.25px;font-size:15px;color:#111;">13</div>
<div class="c" style="left:334px;top:723.25px;font-size:15px;color:#111;">15</div>
<div class="c" style="left:405px;top:723.25px;font-size:15px;color:#111;">13</div>
<div class="c" style="left:456.5px;top:723.25px;font-size:15px;color:#111;">6</div>
<div class="c" style="left:518.3px;top:725.2px;font-size:15px;color:#111;letter-spacing:2.4px;">-1</div>
<div class="c" style="left:698px;top:725.2px;font-size:15px;color:#111;">11</div>
<div class="c" style="left:830.4px;top:725.2px;font-size:15px;color:#111;">14</div>
<div class="t" style="left:26.2px;top:754.5px;font-size:11.4px;color:#111;">EMEA</div>
<div class="t" style="left:106.4px;top:752.41px;font-size:15.4px;color:#111;font-weight:700;">Slovakia</div>
<div class="c" style="left:259.7px;top:752.75px;font-size:15px;color:#111;">14</div>
<div class="c" style="left:334px;top:752.75px;font-size:15px;color:#111;">4</div>
<div class="c" style="left:405px;top:752.75px;font-size:15px;color:#111;">1</div>
<div class="c" style="left:456.5px;top:752.75px;font-size:15px;color:#111;">15</div>
<div class="c" style="left:518.3px;top:754.45px;font-size:15px;color:#111;letter-spacing:2.4px;">-1</div>
<div class="c" style="left:698px;top:754.45px;font-size:15px;color:#111;">15</div>
<div class="c" style="left:830.4px;top:754.45px;font-size:15px;color:#111;">8</div>
<div class="t" style="left:26.2px;top:783.5px;font-size:11.4px;color:#111;">AMERICAS</div>
<div class="t" style="left:106.4px;top:781.41px;font-size:15.4px;color:#111;font-weight:700;">Honduras</div>
<div class="c" style="left:259.7px;top:781.75px;font-size:15px;color:#111;">15</div>
<div class="c" style="left:334px;top:781.75px;font-size:15px;color:#111;">14</div>
<div class="c" style="left:405px;top:781.75px;font-size:15px;color:#111;">15</div>
<div class="c" style="left:456.5px;top:781.75px;font-size:15px;color:#111;">12</div>
<div class="c" style="left:519.5px;top:783.45px;font-size:15px;color:#111;">0</div>
<div class="c" style="left:698px;top:783.45px;font-size:15px;color:#111;">14</div>
<div class="c" style="left:830.4px;top:783.45px;font-size:15px;color:#111;">15</div>
<div class="t" style="left:18.7px;top:838.95px;font-size:11.4px;color:#222;transform:scaleX(1.1000)">* EMEA: khu vực châu Âu, Trung Đông và châu Phi.</div>
<div class="t" style="left:27.9px;top:855.35px;font-size:11.4px;color:#222;transform:scaleX(1.0849)">AMERICAS: Khu vực châu Mỹ</div>
<div class="t" style="left:27.9px;top:871.65px;font-size:11.4px;color:#222;transform:scaleX(1.0884)">APAC: Khu vực châu Á Thái Bình Dương</div>
<div class="t" style="left:799.4px;top:869.45px;font-size:14px;color:#222;font-style:italic;transform:scaleX(0.9985)">Nguồn: Cushman &amp; Wakefield</div>
<div class="t" style="left:50.6px;top:18.8px;font-size:16.3px;color:#10396d;font-weight:700;-webkit-text-stroke:0.7px #10396d;transform:scaleX(1.2272)">CUSHMAN &amp;</div>
<div class="t" style="left:50.6px;top:34.2px;font-size:16.3px;color:#10396d;font-weight:700;-webkit-text-stroke:0.7px #10396d;transform:scaleX(1.2276)">WAKEFIELD</div>
<div class="t" style="left:172px;top:43.77px;font-size:5px;color:#10396d;transform:scaleX(1.3572)">®</div>
<div class="t" style="left:890.4px;top:26.87px;font-size:20px;color:#111;font-weight:700;-webkit-text-stroke:0.5px #111;transform:scaleX(0.9188)">TIN</div>
<div class="t" style="left:920px;top:26.87px;font-size:20px;color:#1a6a3c;font-weight:700;-webkit-text-stroke:0.5px #1a6a3c;transform:scaleX(0.7744)">BDS</div>
<div class="t" style="left:892.5px;top:44.05px;font-size:20.5px;color:#fff;transform:scaleX(1.0402)">C</div>
<div class="t" style="left:911.4px;top:44.05px;font-size:20.5px;color:#fff;transform:scaleX(1.0536)">O</div>
<div class="t" style="left:931.7px;top:44.05px;font-size:20.5px;color:#fff;transform:scaleX(1.1478)">M</div>
</div></body></html>
